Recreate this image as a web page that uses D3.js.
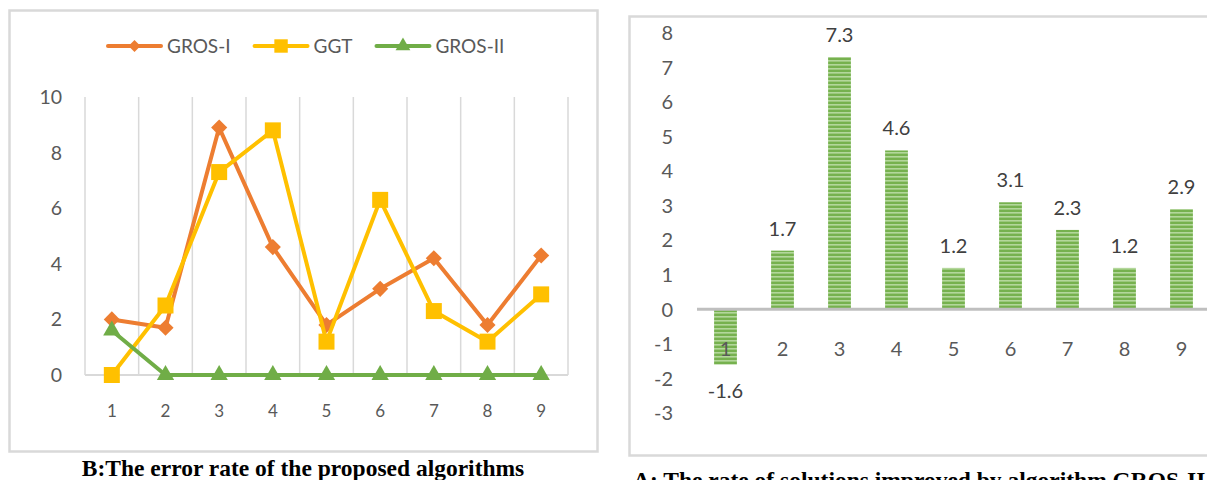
<!DOCTYPE html>
<html>
<head>
<meta charset="utf-8">
<script src="https://cdn.jsdelivr.net/npm/d3@7"></script>
<style>
  html, body { margin: 0; padding: 0; background: #fff; }
  svg { display: block; }
  text { font-family: Lato, "Open Sans", sans-serif; }
  .caption { font-family: "Liberation Serif", "Times New Roman", serif; font-weight: bold; fill: #000; }
</style>
</head>
<body>
<svg id="chart" width="1207" height="480"></svg>
<script>
// ---- data ----
const categories = ["1", "2", "3", "4", "5", "6", "7", "8", "9"];
const grosI  = [2.0, 1.7, 8.9, 4.6, 1.8, 3.1, 4.2, 1.8, 4.3];
const ggt    = [0.0, 2.5, 7.3, 8.8, 1.2, 6.3, 2.3, 1.2, 2.9];
const grosII = [1.6, 0, 0, 0, 0, 0, 0, 0, 0];
const errorTicks = [0, 2, 4, 6, 8, 10];

const improved = [-1.6, 1.7, 7.3, 4.6, 1.2, 3.1, 2.3, 1.2, 2.9];
const improvedTicks = [8, 7, 6, 5, 4, 3, 2, 1, 0, -1, -2, -3];

const seriesNames = ["GROS-I", "GGT", "GROS-II"];
const seriesColors = ["#ED7D31", "#FFC000", "#70AD47"];

const svg = d3.select("#chart");
const tickColor = "#595959";
const gridColor = "#D9D9D9";

// ================= line chart: error rate =================
const L = svg.append("g");
L.append("rect").attr("x", 9.5).attr("y", 10.5).attr("width", 588).attr("height", 441)
  .attr("fill", "none").attr("stroke", gridColor).attr("stroke-width", 2.5);

const xL = d3.scalePoint().domain(categories).range([85, 568]).padding(0.5);
const yL = d3.scaleLinear().domain([0, 10]).range([375, 97]);
const stepL = xL.step();

// vertical gridlines at category boundaries
L.append("g").selectAll("line").data(d3.range(categories.length + 1)).join("line")
  .attr("x1", i => xL.range()[0] + i * stepL).attr("x2", i => xL.range()[0] + i * stepL)
  .attr("y1", yL(10)).attr("y2", yL(0))
  .attr("stroke", gridColor).attr("stroke-width", 1.5);

// category axis line
L.append("line").attr("x1", xL.range()[0]).attr("x2", xL.range()[1])
  .attr("y1", yL(0)).attr("y2", yL(0)).attr("stroke", gridColor).attr("stroke-width", 2);

// y tick labels
L.append("g").selectAll("text").data(errorTicks).join("text")
  .attr("x", 62).attr("y", d => yL(d)).attr("dy", "0.36em")
  .attr("text-anchor", "end").attr("font-size", 19.5).attr("fill", tickColor)
  .text(d => d);

// x tick labels
L.append("g").selectAll("text").data(categories).join("text")
  .attr("x", d => xL(d)).attr("y", 411).attr("dy", "0.36em")
  .attr("text-anchor", "middle").attr("font-size", 17).attr("fill", tickColor)
  .text(d => d);

const seriesValues = [grosI, ggt, grosII];
const symbolFor = [
  d3.symbol().type(d3.symbolSquare).size(130),   // rotated below -> diamond
  d3.symbol().type(d3.symbolSquare).size(256),
  d3.symbol().type(d3.symbolTriangle).size(130)
];
const legendSymbolFor = [
  d3.symbol().type(d3.symbolSquare).size(72),
  d3.symbol().type(d3.symbolSquare).size(180),
  d3.symbol().type(d3.symbolTriangle).size(95)
];
const rotFor = [45, 0, 0];

const line = d3.line().x((d, i) => xL(categories[i])).y(d => yL(d));

seriesValues.forEach((vals, s) => {
  const g = L.append("g");
  g.append("path").datum(vals).attr("d", line)
    .attr("fill", "none").attr("stroke", seriesColors[s]).attr("stroke-width", 4)
    .attr("stroke-linejoin", "round").attr("stroke-linecap", "round");
  g.selectAll("path.m").data(vals).join("path").attr("class", "m")
    .attr("d", symbolFor[s]())
    .attr("transform", (d, i) => `translate(${xL(categories[i])},${yL(d)}) rotate(${rotFor[s]})`)
    .attr("fill", seriesColors[s]);
});

// legend
const legend = L.append("g");
let lx = 108;
const ly = 46;
seriesNames.forEach((name, s) => {
  const item = legend.append("g");
  item.append("line").attr("x1", lx).attr("x2", lx + 53).attr("y1", ly).attr("y2", ly)
    .attr("stroke", seriesColors[s]).attr("stroke-width", 4).attr("stroke-linecap", "round");
  item.append("path").attr("d", legendSymbolFor[s]())
    .attr("transform", `translate(${lx + 26.5},${ly}) rotate(${rotFor[s]})`)
    .attr("fill", seriesColors[s]);
  const t = item.append("text").attr("x", lx + 59).attr("y", ly).attr("dy", "0.36em")
    .attr("font-size", 19).attr("fill", tickColor).text(name);
  lx = lx + 59 + t.node().getComputedTextLength() + 24;
});

// caption
svg.append("text").attr("class", "caption").attr("x", 303).attr("y", 475.5)
  .attr("text-anchor", "middle").attr("font-size", 23.5)
  .text("B:The error rate of the proposed algorithms");

// ================= bar chart: improved solutions =================
const R = svg.append("g");
R.append("rect").attr("x", 629.5).attr("y", 16.5).attr("width", 700).attr("height", 439)
  .attr("fill", "none").attr("stroke", gridColor).attr("stroke-width", 2.5);

const defs = svg.append("defs");
const pat = defs.append("pattern").attr("id", "hstripe")
  .attr("patternUnits", "userSpaceOnUse").attr("width", 8).attr("height", 4);
pat.append("rect").attr("width", 8).attr("height", 4).attr("fill", "#76B14E");
pat.append("rect").attr("y", 0).attr("width", 8).attr("height", 1.6).attr("fill", "#B3D79B");

const xR = d3.scaleBand().domain(categories).range([697, 1210]).paddingInner(0.6).paddingOuter(0.3);
const yR = d3.scaleLinear().domain([-3, 8]).range([413, 33]);

// y tick labels
R.append("g").selectAll("text").data(improvedTicks).join("text")
  .attr("x", 673).attr("y", d => yR(d)).attr("dy", "0.36em")
  .attr("text-anchor", "end").attr("font-size", 20).attr("fill", tickColor)
  .text(d => d);

// bars
R.append("g").selectAll("rect").data(improved).join("rect")
  .attr("x", (d, i) => xR(categories[i]))
  .attr("width", xR.bandwidth())
  .attr("y", d => yR(Math.max(0, d)))
  .attr("height", d => Math.abs(yR(d) - yR(0)))
  .attr("fill", "url(#hstripe)");

// zero axis
R.append("line").attr("x1", 697).attr("x2", 1210).attr("y1", yR(0)).attr("y2", yR(0))
  .attr("stroke", "#BFBFBF").attr("stroke-width", 3);

// category labels (next to the zero axis)
R.append("g").selectAll("text").data(categories).join("text")
  .attr("x", d => xR(d) + xR.bandwidth() / 2).attr("y", yR(0) + 39)
  .attr("dy", "0.36em").attr("text-anchor", "middle")
  .attr("font-size", 20).attr("fill", tickColor).text(d => d);

// value labels
R.append("g").selectAll("text").data(improved).join("text")
  .attr("x", (d, i) => xR(categories[i]) + xR.bandwidth() / 2)
  .attr("y", d => d >= 0 ? yR(d) - 15 : yR(d) + 33)
  .attr("text-anchor", "middle").attr("font-size", 20).attr("fill", "#404040")
  .text(d => d);

// caption
svg.append("text").attr("class", "caption").attr("x", 633).attr("y", 487.5)
  .attr("font-size", 23.5)
  .text("A: The rate of solutions improved by algorithm GROS-II");
</script>
</body>
</html>
